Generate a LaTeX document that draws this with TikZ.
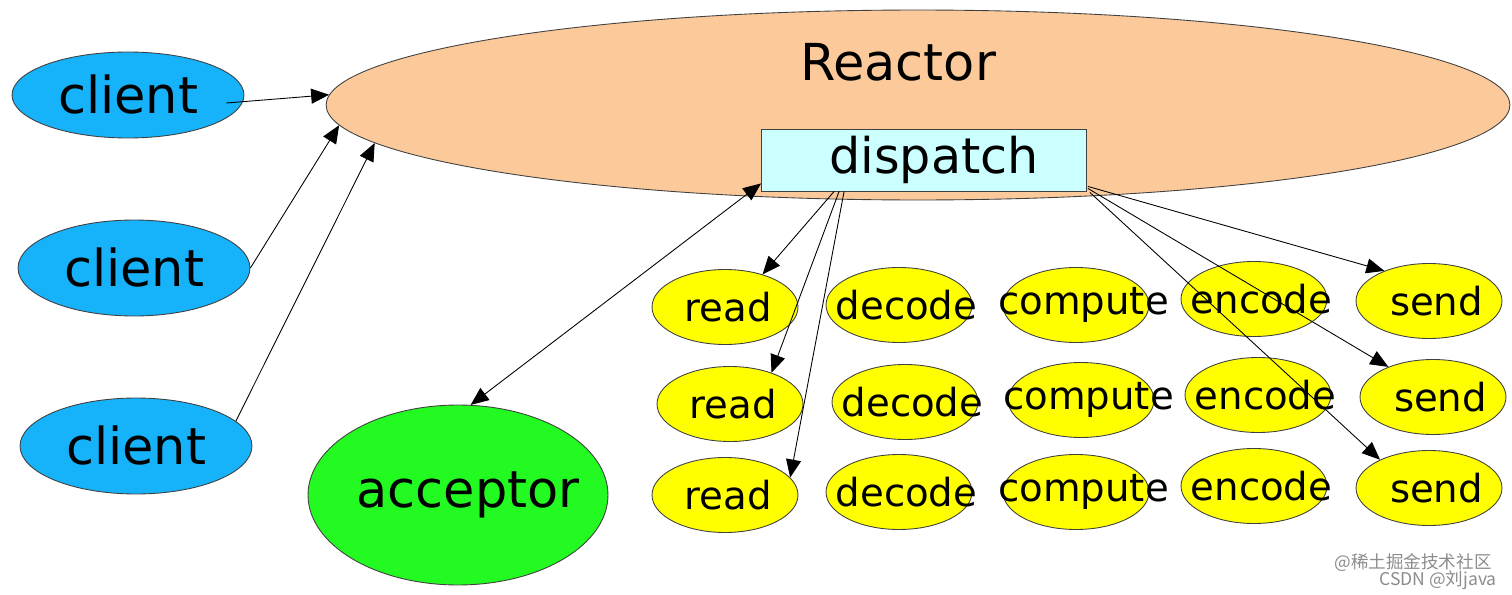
\documentclass[tikz,border=0pt]{standalone}
\usepackage{fontspec}
\setmainfont{DejaVu Sans}
\newfontfamily\cjkfont{Noto Sans CJK SC}
\usetikzlibrary{shapes.geometric,arrows.meta}
\definecolor{reactorfill}{HTML}{FCCA9A}
\definecolor{clientfill}{HTML}{16B2FA}
\definecolor{acceptfill}{HTML}{22FA22}
\definecolor{dispatchfill}{HTML}{CCFFFF}
\definecolor{jobfill}{HTML}{FFFF00}
% text that may run over the edge of its oval
\newcommand\overtext[1]{\makebox[0pt]{#1}}
\begin{document}
\begin{tikzpicture}[x=0.02cm,y=-0.02cm,
  >={Triangle[length=0.36cm,width=0.3cm]},
  oval/.style={ellipse,draw=black!75,line width=0.5pt,inner sep=0pt},
  client/.style={oval,fill=clientfill,minimum width=4.64cm,minimum height=1.92cm,
    font=\fontsize{29}{30}\selectfont},
  job/.style={oval,fill=jobfill,minimum width=2.92cm,minimum height=1.5cm,
    font=\fontsize{22}{24}\selectfont},
  arr/.style={->,line width=0.5pt}]
\useasboundingbox (0,0) rectangle (1512,595);
% reactor
\node[oval,fill=reactorfill,minimum width=23.68cm,minimum height=3.8cm] (reactor) at (918,105) {};
\node[font=\fontsize{29}{30}\selectfont] (reactorlabel) at (898,62) {Reactor};
\node[draw=black!75,line width=0.5pt,fill=dispatchfill,minimum width=6.5cm,minimum height=1.24cm,
  inner sep=0pt,font=\fontsize{28}{30}\selectfont] (dispatch) at (924,160) {\hspace{0.4cm}dispatch};
% clients
\node[client,minimum height=1.72cm] (client1) at (128,95) {\overtext{client}};
\node[client] (client2) at (134,268) {\overtext{client}};
\node[client] (client3) at (136,446) {\overtext{client}};
\node[oval,fill=acceptfill,minimum width=6cm,minimum height=3.6cm,
  font=\fontsize{29}{30}\selectfont] (acceptor) at (458,495) {\overtext{\hspace{0.4cm}acceptor}};
% handlers
\node[job] (read1) at (725,307) {\overtext{\,read}};
\node[job] (decode1) at (899,305) {\overtext{\hspace{0.3cm}decode}};
\node[job] (compute1) at (1076,305) {\overtext{\hspace{0.3cm}compute}};
\node[job] (encode1) at (1254,299) {\overtext{\hspace{0.3cm}encode}};
\node[job] (send1) at (1429,301) {\overtext{\hspace{0.3cm}send}};
\node[job] (read2) at (730,404) {\overtext{\,read}};
\node[job] (decode2) at (905,402) {\overtext{\hspace{0.3cm}decode}};
\node[job] (compute2) at (1081,400) {\overtext{\hspace{0.3cm}compute}};
\node[job] (encode2) at (1258,395) {\overtext{\hspace{0.3cm}encode}};
\node[job] (send2) at (1433,397) {\overtext{\hspace{0.3cm}send}};
\node[job] (read3) at (725,495) {\overtext{\,read}};
\node[job] (decode3) at (899,492) {\overtext{\hspace{0.3cm}decode}};
\node[job] (compute3) at (1076,492) {\overtext{\hspace{0.3cm}compute}};
\node[job] (encode3) at (1254,486) {\overtext{\hspace{0.3cm}encode}};
\node[job] (send3) at (1429,488) {\overtext{\hspace{0.3cm}send}};
% connectors
\draw[arr] ([shift={(-18,8)}]client1.east) -- (reactor.179);
\draw[arr] (client2.east) -- (reactor.182.6);
\draw[arr] (client3.14) -- (reactor.184);
\draw[<->,line width=0.5pt] ([shift={(0,-8)}]dispatch.south west) -- (acceptor.82);
\draw[arr] ([shift={(73,0)}]dispatch.south west) -- (read1.41);
\draw[arr] ([shift={(78,0)}]dispatch.south west) -- (read2.37);
\draw[arr] ([shift={(83,0)}]dispatch.south west) -- (read3.15);
\draw[arr] ([shift={(1,-5)}]dispatch.south east) -- (send1.146);
\draw[arr] ([shift={(1,-3)}]dispatch.south east) -- (send2.146);
\draw[arr] ([shift={(3,1)}]dispatch.south east) -- (send3.150);
% watermark
\node[text=black!45,font=\cjkfont\fontsize{10}{10}\selectfont] (mark1) at (1413,563) {@稀土掘金技术社区};
\node[text=black!45,font=\cjkfont\fontsize{10}{10}\selectfont] (mark2) at (1438,580) {CSDN @刘java};
\end{tikzpicture}
\end{document}
